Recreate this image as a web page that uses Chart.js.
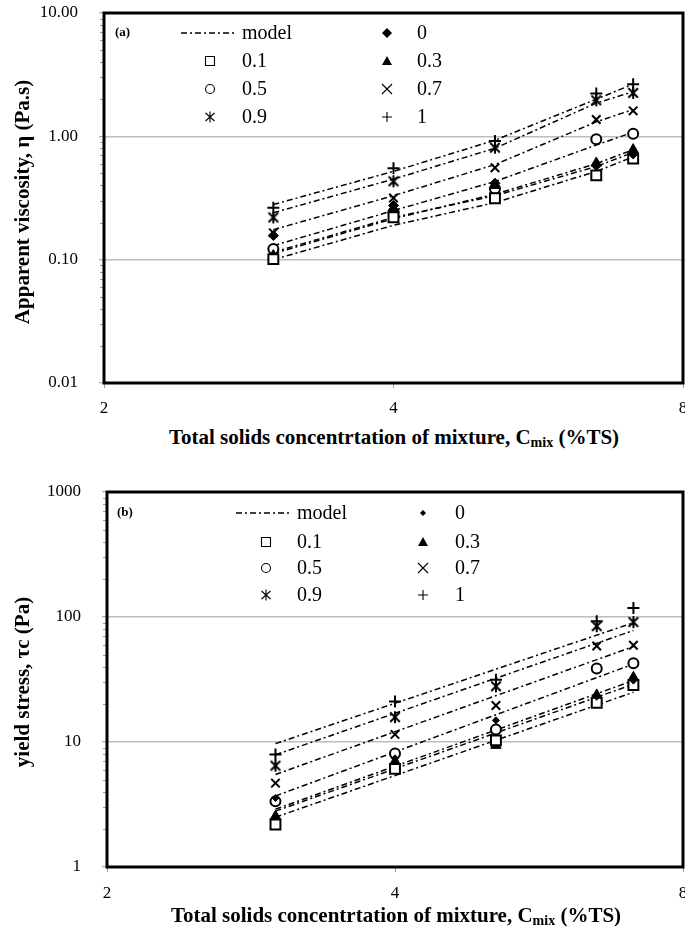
<!DOCTYPE html>
<html><head><meta charset="utf-8">
<script src="https://cdn.jsdelivr.net/npm/chart.js@4.4.1/dist/chart.umd.min.js"></script>
<style>
body{margin:0;background:#fff;width:685px;height:933px;overflow:hidden;position:relative;font-family:"Liberation Serif","Times New Roman",serif;color:#000;}
.wrap{position:absolute;left:0;width:685px;}
.xt{position:absolute;font-weight:bold;font-size:21px;white-space:nowrap;transform:translateX(-50%);line-height:22px;}
.yt{position:absolute;font-weight:bold;font-size:21px;white-space:nowrap;transform:translate(-50%,-50%) rotate(-90deg);line-height:22px;}
.xt sub{font-size:14px;line-height:0;vertical-align:-3px;}
</style></head><body>
<div class="wrap" style="top:0;height:425px"><canvas id="ca" width="685" height="425"></canvas></div>
<div class="wrap" style="top:470px;height:440px"><canvas id="cb" width="685" height="440"></canvas></div>
<div class="yt" style="left:22px;top:202px">Apparent viscosity, η (Pa.s)</div>
<div class="xt" style="left:394px;top:426px">Total solids concentrtation of mixture, C<sub>mix</sub> (%TS)</div>
<div class="yt" style="left:22px;top:682px">yield stress, τc (Pa)</div>
<div class="xt" style="left:396px;top:904px">Total solids concentrtation of mixture, C<sub>mix</sub> (%TS)</div>
<script>
// ---------- data ----------
const xValues = [3.0, 4.0, 5.1, 6.5, 7.1];
const seriesNames = ['0', '0.1', '0.3', '0.5', '0.7', '0.9', '1'];
const xTicks = [2, 4, 8];
const xTickLabels = ['2', '4', '8'];
const viscTicks = [0.01, 0.1, 1, 10];
const viscTickLabels = ['0.01', '0.10', '1.00', '10.00'];
const yieldTicks = [1, 10, 100, 1000];
const yieldTickLabels = ['1', '10', '100', '1000'];

// (a) apparent viscosity, Pa.s — measured
const visc_0   = [0.157, 0.275, 0.417, 0.58, 0.72];
const visc_0_1 = [0.101, 0.221, 0.315, 0.482, 0.66];
const visc_0_3 = [0.108, 0.26, 0.40, 0.607, 0.78];
const visc_0_5 = [0.122, 0.242, 0.376, 0.945, 1.05];
const visc_0_7 = [0.165, 0.316, 0.556, 1.37, 1.61];
const visc_0_9 = [0.22, 0.432, 0.809, 1.96, 2.25];
const visc_1   = [0.264, 0.55, 0.916, 2.22, 2.65];
// (a) model, at the measured concentrations
const viscModelX    = [3.0, 4.0, 5.1, 6.5, 7.1];
const viscModel_0   = [0.115, 0.22, 0.33, 0.57, 0.74];
const viscModel_0_1 = [0.10, 0.19, 0.29, 0.52, 0.68];
const viscModel_0_3 = [0.112, 0.215, 0.34, 0.60, 0.78];
const viscModel_0_5 = [0.13, 0.25, 0.43, 0.85, 1.08];
const viscModel_0_7 = [0.175, 0.33, 0.59, 1.31, 1.65];
const viscModel_0_9 = [0.24, 0.45, 0.80, 1.86, 2.3];
const viscModel_1   = [0.28, 0.52, 0.93, 2.0, 2.65];

// (b) yield stress, Pa — measured
const yield_0   = [3.56, 7.4, 14.9, 23.0, 31.0];
const yield_0_1 = [2.19, 6.1, 10.3, 20.6, 28.6];
const yield_0_3 = [2.55, 7.0, 9.4, 23.8, 32.9];
const yield_0_5 = [3.35, 8.1, 12.6, 38.8, 42.6];
const yield_0_7 = [4.69, 11.5, 19.6, 58.6, 59.5];
const yield_0_9 = [6.47, 15.8, 27.9, 84.5, 91.0];
const yield_1   = [7.96, 21.1, 31.5, 92.6, 118.0];
// (b) model, straight lines between end concentrations
const yieldModelX    = [3.0, 7.1];
const yieldModel_0   = [2.8, 29];
const yieldModel_0_1 = [2.5, 25];
const yieldModel_0_3 = [2.9, 31];
const yieldModel_0_5 = [3.7, 42];
const yieldModel_0_7 = [5.5, 58];
const yieldModel_0_9 = [7.9, 78];
const yieldModel_1   = [9.7, 90];

// ---------- styling ----------
const FONT = '"Liberation Serif","Times New Roman",serif';
function asteriskCanvas(r, lw) {
  const s = Math.ceil(2 * r + lw + 2), c = document.createElement('canvas');
  c.width = s; c.height = s;
  const g = c.getContext('2d'); const m = s / 2;
  g.strokeStyle = '#000'; g.lineWidth = lw;
  g.beginPath();
  g.moveTo(m - r * 0.8, m - r * 0.8); g.lineTo(m + r * 0.8, m + r * 0.8);
  g.moveTo(m + r * 0.8, m - r * 0.8); g.lineTo(m - r * 0.8, m + r * 0.8);
  g.moveTo(m, m - r); g.lineTo(m, m + r);
  g.stroke();
  return c;
}
const astData = asteriskCanvas(6, 2);

function markerStyle(name, diamondR) {
  const base = { borderColor: '#000', backgroundColor: '#000', pointBorderWidth: 2, borderWidth: 2 };
  switch (name) {
    case '0':   return { ...base, pointStyle: 'rectRot', pointRadius: diamondR, pointBorderWidth: 1 };
    case '0.1': return { ...base, pointStyle: 'rect', pointRadius: 7, backgroundColor: '#fff' };
    case '0.3': return { ...base, pointStyle: 'triangle', pointRadius: 6, pointBorderWidth: 1 };
    case '0.5': return { ...base, pointStyle: 'circle', pointRadius: 5, backgroundColor: '#fff' };
    case '0.7': return { ...base, pointStyle: 'crossRot', pointRadius: 6 };
    case '0.9': return { ...base, pointStyle: astData, pointRadius: 6 };
    case '1':   return { ...base, pointStyle: 'cross', pointRadius: 6 };
  }
}

function drawLegendMarker(ctx, name, x, y, r) {
  ctx.save();
  ctx.strokeStyle = '#000'; ctx.fillStyle = '#000'; ctx.lineWidth = 1.1;
  ctx.beginPath();
  switch (name) {
    case 'model':
      ctx.lineWidth = 1.5; ctx.setLineDash([6, 3, 2, 3]);
      ctx.moveTo(x - 27, y); ctx.lineTo(x + 27, y); ctx.stroke(); break;
    case '0':
      ctx.moveTo(x, y - r); ctx.lineTo(x + r, y); ctx.lineTo(x, y + r); ctx.lineTo(x - r, y); ctx.closePath(); ctx.fill(); break;
    case '0.1':
      ctx.rect(x - 4.5, y - 4.5, 9, 9); ctx.stroke(); break;
    case '0.3':
      ctx.moveTo(x, y - 5); ctx.lineTo(x + 5, y + 4); ctx.lineTo(x - 5, y + 4); ctx.closePath(); ctx.fill(); break;
    case '0.5':
      ctx.arc(x, y, 4.5, 0, Math.PI * 2); ctx.stroke(); break;
    case '0.7':
      ctx.moveTo(x - 5, y - 5); ctx.lineTo(x + 5, y + 5); ctx.moveTo(x + 5, y - 5); ctx.lineTo(x - 5, y + 5); ctx.stroke(); break;
    case '0.9':
      ctx.moveTo(x - 4.5, y - 4); ctx.lineTo(x + 4.5, y + 4); ctx.moveTo(x + 4.5, y - 4); ctx.lineTo(x - 4.5, y + 4);
      ctx.moveTo(x, y - 5.5); ctx.lineTo(x, y + 5.5); ctx.stroke(); break;
    case '1':
      ctx.moveTo(x - 5, y); ctx.lineTo(x + 5, y); ctx.moveTo(x, y - 5); ctx.lineTo(x, y + 5); ctx.stroke(); break;
  }
  ctx.restore();
}

const framePlugin = {
  id: 'frame',
  afterDraw(chart, args, o) {
    const { ctx, chartArea: a, scales: { y } } = chart;
    ctx.save();
    // minor ticks on y axis
    ctx.strokeStyle = '#9a9a9a'; ctx.lineWidth = 1;
    for (let e = Math.round(Math.log10(y.min)); e < Math.round(Math.log10(y.max)); e++) {
      for (let k = 2; k <= 9; k++) {
        const py = Math.round(y.getPixelForValue(k * Math.pow(10, e))) + 0.5;
        ctx.beginPath(); ctx.moveTo(a.left - 4, py); ctx.lineTo(a.left, py); ctx.stroke();
      }
    }
    // box
    ctx.strokeStyle = '#000'; ctx.lineWidth = 3;
    ctx.strokeRect(a.left, a.top, a.right - a.left, a.bottom - a.top);
    // panel tag
    ctx.fillStyle = '#000';
    ctx.font = 'bold 13px ' + FONT; ctx.textBaseline = 'middle'; ctx.textAlign = 'left';
    ctx.fillText(o.tag, o.tagX, o.tagY);
    // legend
    ctx.font = '20px ' + FONT;
    o.items.forEach(it => {
      drawLegendMarker(ctx, it.name, it.mx, it.y, o.diamondR);
      ctx.fillStyle = '#000';
      ctx.fillText(it.name, it.tx, it.y + 1);
    });
    ctx.restore();
  }
};

function legendItems(rows, c1m, c1t, c2m, c2t, lineX) {
  const names = [['model', '0'], ['0.1', '0.3'], ['0.5', '0.7'], ['0.9', '1']];
  const out = [];
  names.forEach((pair, i) => {
    out.push({ name: pair[0], mx: i === 0 ? lineX : c1m, tx: c1t, y: rows[i] });
    out.push({ name: pair[1], mx: c2m, tx: c2t, y: rows[i] });
  });
  return out;
}

function buildChart(id, cfg) {
  const datasets = [];
  cfg.models.forEach(vals => {
    datasets.push({
      type: 'line', order: 1,
      data: cfg.modelX.map((x, j) => ({ x, y: vals[j] })),
      borderColor: '#000', borderWidth: 1.5, borderDash: [6, 3, 2, 3], pointRadius: 0, fill: false, tension: 0
    });
  });
  cfg.series.forEach((vals, i) => {
    datasets.push({
      type: 'scatter', order: 0, label: seriesNames[i],
      data: xValues.map((x, j) => ({ x, y: vals[j] })),
      ...markerStyle(seriesNames[i], cfg.diamondR)
    });
  });
  return new Chart(document.getElementById(id), {
    data: { datasets },
    options: {
      responsive: false, animation: false, events: [],
      layout: { autoPadding: false, padding: { left: 0, top: cfg.padTop, right: 2, bottom: 0 } },
      plugins: { legend: { display: false }, tooltip: { enabled: false },
        frame: { tag: cfg.tag, tagX: cfg.tagX, tagY: cfg.tagY, items: cfg.items, diamondR: cfg.legendDiamond } },
      scales: {
        x: {
          type: 'logarithmic', min: 2, max: 8,
          afterBuildTicks: s => { s.ticks = xTicks.map(v => ({ value: v })); },
          afterFit: s => { s.height = cfg.xHeight; s.paddingLeft = 0; s.paddingRight = 0; },
          ticks: { callback: (v, i) => xTickLabels[i], font: { family: FONT, size: 17 }, color: '#000', padding: cfg.xPad, maxRotation: 0, autoSkip: false },
          grid: { drawOnChartArea: false, drawTicks: true, tickLength: 5, color: '#9a9a9a' },
          border: { display: false }
        },
        y: {
          type: 'logarithmic', min: cfg.yTicks[0], max: cfg.yTicks[cfg.yTicks.length - 1],
          afterBuildTicks: s => { s.ticks = cfg.yTicks.map(v => ({ value: v })); },
          afterFit: s => { s.width = cfg.yWidth; s.paddingTop = 0; s.paddingBottom = 0; },
          ticks: { callback: (v, i) => cfg.yLabels[i], font: { family: FONT, size: 17 }, color: '#000', padding: 21, autoSkip: false },
          grid: { color: '#bdbdbd', lineWidth: 1.5, drawTicks: true, tickLength: 5, tickColor: '#9a9a9a', tickWidth: 1 },
          border: { display: false }
        }
      }
    },
    plugins: [framePlugin]
  });
}

buildChart('ca', {
  series: [visc_0, visc_0_1, visc_0_3, visc_0_5, visc_0_7, visc_0_9, visc_1],
  modelX: viscModelX,
  models: [viscModel_0, viscModel_0_1, viscModel_0_3, viscModel_0_5, viscModel_0_7, viscModel_0_9, viscModel_1],
  yTicks: viscTicks, yLabels: viscTickLabels,
  padTop: 13, xHeight: 42, xPad: 10, yWidth: 104, diamondR: 5, legendDiamond: 5,
  tag: '(a)', tagX: 115, tagY: 33,
  items: legendItems([33, 61, 89, 117], 210, 242, 387, 417, 208)
});
buildChart('cb', {
  series: [yield_0, yield_0_1, yield_0_3, yield_0_5, yield_0_7, yield_0_9, yield_1],
  modelX: yieldModelX,
  models: [yieldModel_0, yieldModel_0_1, yieldModel_0_3, yieldModel_0_5, yieldModel_0_7, yieldModel_0_9, yieldModel_1],
  yTicks: yieldTicks, yLabels: yieldTickLabels,
  padTop: 22, xHeight: 43, xPad: 11, yWidth: 107, diamondR: 3.5, legendDiamond: 3,
  tag: '(b)', tagX: 117, tagY: 43,
  items: legendItems([43, 72, 98, 125], 266, 297, 423, 455, 263)
});
</script>
</body></html>
